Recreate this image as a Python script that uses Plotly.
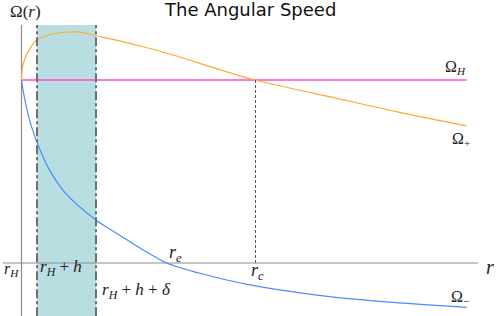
import plotly.graph_objects as go

# ---- data (r in units of r_H = 1, Omega in units of Omega_H = 1) ----
r_H = 1.0
r_H_h = 1.155         # r_H + h
r_H_h_delta = 1.745   # r_H + h + delta
r_e = 2.45
r_c = 3.34
r_end = 5.452
omega_H = 1.0

r_plus = [1.0, 1.008, 1.035, 1.085, 1.152, 1.268, 1.435, 1.535, 1.602, 1.745, 1.935, 2.265, 2.505, 3.335, 4.152, 4.815, 5.452]
omega_plus = [1.0, 1.064, 1.119, 1.173, 1.219, 1.246, 1.261, 1.263, 1.260, 1.242, 1.219, 1.175, 1.138, 1.0, 0.9, 0.819, 0.749]

r_minus = [1.0, 1.018, 1.052, 1.085, 1.118, 1.152, 1.202, 1.268, 1.435, 1.745, 1.935, 2.268, 2.45, 2.785, 3.285, 3.952, 4.618, 5.452]
omega_minus = [1.0, 0.936, 0.845, 0.772, 0.717, 0.663, 0.597, 0.52, 0.385, 0.235, 0.168, 0.055, 0.0, -0.056, -0.120, -0.175, -0.211, -0.242]

title = "The Angular Speed"

W, H = 498, 316
X_RANGE = [0.785, 5.765]
Y_RANGE = [-0.2896, 1.4372]
band_top = 1.30
axis_left = 0.815
axis_right = 5.565

fig = go.Figure()

# shaded band
fig.add_shape(type="rect", x0=r_H_h, x1=r_H_h_delta, y0=Y_RANGE[0] - 0.1, y1=band_top,
              fillcolor="#B8DEE2", line_width=0, layer="below")

# axes lines
fig.add_shape(type="line", x0=axis_left, x1=axis_right, y0=0, y1=0,
              line=dict(color="#8C8C8C", width=1.2), layer="below")
fig.add_shape(type="line", x0=r_H, x1=r_H, y0=Y_RANGE[0] - 0.1, y1=band_top,
              line=dict(color="#8C8C8C", width=1.2), layer="below")

# dash-dot band edges
for xv in (r_H_h, r_H_h_delta):
    fig.add_shape(type="line", x0=xv, x1=xv, y0=Y_RANGE[0] - 0.1, y1=band_top,
                  line=dict(color="#6E6E6E", width=2, dash="dashdot"))

# dotted line at r_c
fig.add_shape(type="line", x0=r_c, x1=r_c, y0=0, y1=omega_H,
              line=dict(color="#555555", width=1, dash="3px,2px"))

# Omega_H line
fig.add_trace(go.Scatter(x=[r_H, r_end], y=[omega_H, omega_H], mode="lines",
                         line=dict(color="#FF4DC4", width=1.5), hoverinfo="skip"))
# Omega_+
fig.add_trace(go.Scatter(x=r_plus, y=omega_plus, mode="lines",
                         line=dict(color="#FFAA33", width=1.2, shape="spline", smoothing=0.8),
                         hoverinfo="skip"))
# Omega_-
fig.add_trace(go.Scatter(x=r_minus, y=omega_minus, mode="lines",
                         line=dict(color="#4A8CFF", width=1.2, shape="spline", smoothing=1.0),
                         hoverinfo="skip"))

MATH = dict(family="Liberation Serif", size=16, color="#222222")


def lab(px, py, text, size=16):
    fig.add_annotation(x=px / W, y=1 - py / H, xref="paper", yref="paper",
                       text=text, showarrow=False, xanchor="center", yanchor="middle",
                       font=dict(MATH, size=size))


lab(25, 12, "Ω(<i>r</i>)", 17)
lab(11, 269, "<i>r</i><sub><i>H</i></sub>")
lab(61, 268, "<i>r</i><sub><i>H</i></sub> + <i>h</i>", 17)
lab(136, 291, "<i>r</i><sub><i>H</i></sub> + <i>h</i> + <i>δ</i>", 17)
lab(175, 253, "<i>r</i><sub><i>e</i></sub>", 18)
lab(257, 271, "<i>r</i><sub><i>c</i></sub>", 18)
lab(455, 67, "Ω<sub><i>H</i></sub>")
lab(461, 139, "Ω<sub>+</sub>")
lab(460, 297, "Ω<sub>−</sub>")
lab(490, 267, "<i>r</i>", 20)

fig.add_annotation(x=250 / W, y=1 - 9 / H, xref="paper", yref="paper", text=title,
                   showarrow=False, xanchor="center", yanchor="middle",
                   font=dict(family="DejaVu Sans", size=18, color="#111111"))

fig.update_layout(
    width=W, height=H, margin=dict(l=0, r=0, t=0, b=0),
    paper_bgcolor="white", plot_bgcolor="white", showlegend=False,
    xaxis=dict(range=X_RANGE, visible=False, fixedrange=True),
    yaxis=dict(range=Y_RANGE, visible=False, fixedrange=True),
)

fig.write_html("out.html", config={"displayModeBar": False},
               post_script="document.body.style.margin='0';document.body.style.overflow='hidden';")
